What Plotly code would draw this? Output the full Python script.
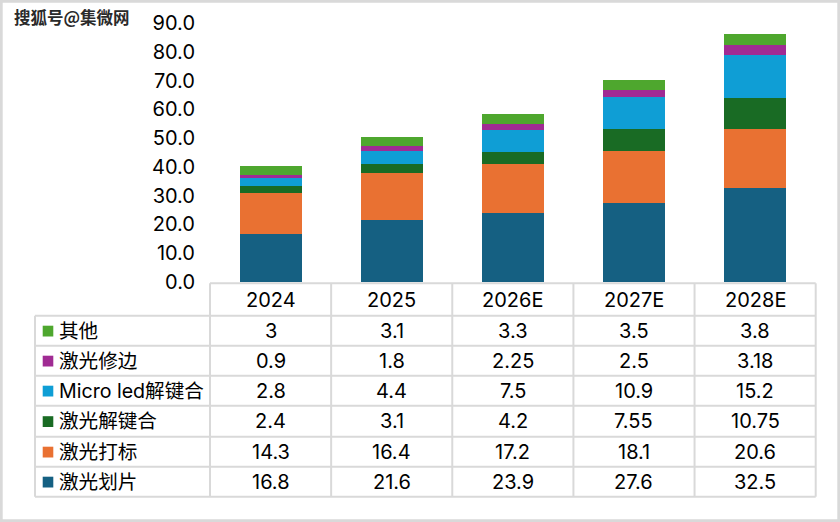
import plotly.graph_objects as go

# ---- data ----
categories = ["2024", "2025", "2026E", "2027E", "2028E"]
series_names = ["激光划片", "激光打标", "激光解键合", "Micro led解键合", "激光修边", "其他"]
v_scribe = [16.8, 21.6, 23.9, 27.6, 32.5]      # 激光划片
v_marking = [14.3, 16.4, 17.2, 18.1, 20.6]     # 激光打标
v_debond = [2.4, 3.1, 4.2, 7.55, 10.75]        # 激光解键合
v_microled = [2.8, 4.4, 7.5, 10.9, 15.2]       # Micro led解键合
v_trim = [0.9, 1.8, 2.25, 2.5, 3.18]           # 激光修边
v_other = [3, 3.1, 3.3, 3.5, 3.8]              # 其他
series_values = [v_scribe, v_marking, v_debond, v_microled, v_trim, v_other]
y_ticks = [0, 10, 20, 30, 40, 50, 60, 70, 80, 90]
watermark = "搜狐号@集微网"

colors = ["#156082", "#E97132", "#196B24", "#0F9ED5", "#A02B93", "#4EA72E"]

W, H = 840, 522
FONT = "Inter, Noto Sans CJK SC, sans-serif"
GRID = "#d9d9d9"

def px(x):
    return x / W

def py(y):
    return 1 - y / H

plot_left, plot_right = 210, 815.7
plot_top, plot_bottom = 23, 282

fig = go.Figure()
for name, vals, col in zip(series_names, series_values, colors):
    fig.add_trace(go.Bar(x=categories, y=vals, name=name,
                         marker=dict(color=col, line=dict(width=0))))

fig.update_layout(
    width=W, height=H,
    margin=dict(l=0, r=0, t=0, b=0, pad=0),
    paper_bgcolor="white", plot_bgcolor="white",
    barmode="stack", bargap=0.488,
    showlegend=False,
    font=dict(family=FONT, size=20, color="#000"),
    xaxis=dict(type="category", domain=[px(plot_left), px(plot_right)],
               showticklabels=False, automargin=False,
               showgrid=False, zeroline=False, showline=False, ticks="",
               range=[-0.5, len(categories) - 0.5]),
    yaxis=dict(domain=[py(plot_bottom), py(plot_top)], range=[0, 90.01],
               automargin=False,
               tickvals=y_ticks, tickformat=".1f", showgrid=False,
               zeroline=False, showline=False, ticks="", ticklabelstandoff=14,
               tickfont=dict(family=FONT, size=20, color="#000")),
)

shapes = []
annotations = []

def hline(x0, x1, y):
    shapes.append(dict(type="line", xref="paper", yref="paper",
                       x0=px(x0), x1=px(x1), y0=py(y), y1=py(y),
                       line=dict(color=GRID, width=2)))

def vline(x, y0, y1):
    shapes.append(dict(type="line", xref="paper", yref="paper",
                       x0=px(x), x1=px(x), y0=py(y0), y1=py(y1),
                       line=dict(color=GRID, width=2)))

# table geometry
table_left = 35
header_top = 283.3
row_lines = [315.7, 345.7, 375.7, 405.7, 436.7, 466.7, 496.7]
col_w = (plot_right - plot_left) / len(categories)

hline(plot_left, plot_right, header_top)
for y in row_lines:
    hline(table_left, plot_right, y)
for i in range(len(categories) + 1):
    vline(plot_left + i * col_w, header_top, row_lines[-1])
vline(table_left, row_lines[0], row_lines[-1])

# header labels
header_c = (header_top + row_lines[0]) / 2
for i, cat in enumerate(categories):
    annotations.append(dict(x=i, xref="x", y=py(header_c), yref="paper",
                            text=cat, showarrow=False, xanchor="center",
                            yanchor="middle", font=dict(size=20)))

# rows (top to bottom: reversed stacking order)
row_order = list(range(len(series_names)))[::-1]
for r, si in enumerate(row_order):
    yc = (row_lines[r] + row_lines[r + 1]) / 2
    # swatch
    shapes.append(dict(type="rect", xref="paper", yref="paper",
                       x0=px(42.7), x1=px(53.3), y0=py(yc + 5.8), y1=py(yc - 5),
                       fillcolor=colors[si], line=dict(width=0)))
    annotations.append(dict(x=px(56.5), xref="paper", y=py(yc), yref="paper",
                            text=series_names[si], showarrow=False,
                            xanchor="left", yanchor="middle",
                            font=dict(size=19.6)))
    for i, v in enumerate(series_values[si]):
        annotations.append(dict(x=i, xref="x", y=py(yc), yref="paper",
                                text="{:g}".format(v), showarrow=False,
                                xanchor="center", yanchor="middle",
                                font=dict(size=20)))

# outer frame
shapes.append(dict(type="rect", xref="paper", yref="paper",
                   x0=px(1.35), x1=px(W - 1.35), y0=py(H - 1.35), y1=py(1.35),
                   line=dict(color=GRID, width=2.7), fillcolor="rgba(0,0,0,0)"))

# watermark
annotations.append(dict(x=px(12), xref="paper", y=py(17), yref="paper",
                        text=watermark, showarrow=False, xanchor="left",
                        yanchor="middle",
                        font=dict(size=16.5, color="#2a2a2a", weight="bold",
                                  family="Noto Sans CJK SC")))

fig.update_layout(shapes=shapes, annotations=annotations)
fig.write_html("out.html",
               config={"displayModeBar": False},
               post_script="document.body.style.margin='0';document.body.style.overflow='hidden';")
